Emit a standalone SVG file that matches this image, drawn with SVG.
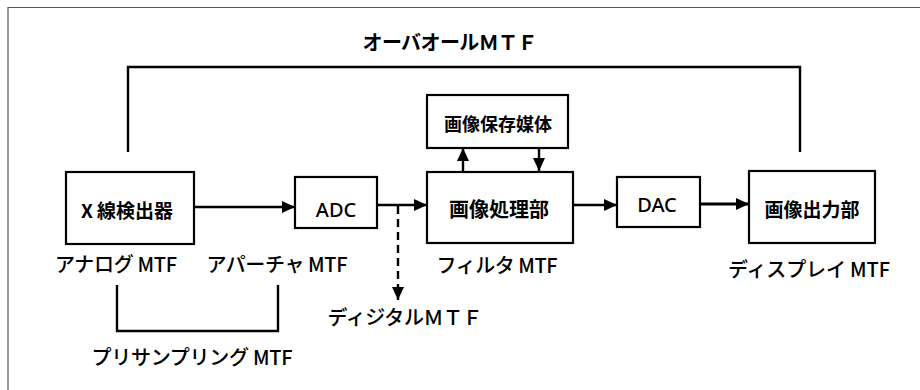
<svg xmlns="http://www.w3.org/2000/svg" width="920" height="390" viewBox="0 0 920 390">
<defs>
<marker id="ah" markerUnits="userSpaceOnUse" markerWidth="13" markerHeight="13" viewBox="0 0 13 13" refX="13" refY="6.5" orient="auto">
<path d="M0,0.5 L13,6.5 L0,12.5 Z" fill="#000"/>
</marker>
<style>
.box{fill:#fff;stroke:#000;stroke-width:2.2}
.ln{fill:none;stroke:#000;stroke-width:2.4}
.ar{fill:none;stroke:#000;stroke-width:2.4;marker-end:url(#ah)}
.ds{fill:none;stroke:#000;stroke-width:2.4;stroke-dasharray:8 5;marker-end:url(#ah)}
.nt{font-family:"Noto Sans CJK JP","Noto Sans",sans-serif;font-size:20px;font-weight:bold;fill:#000;text-anchor:middle}
.lb{font-family:"Noto Sans CJK JP","Noto Sans",sans-serif;font-size:20px;font-weight:500;fill:#000;text-anchor:middle}
.en{font-family:"Noto Sans","Noto Sans CJK JP",sans-serif;font-size:20px;font-weight:500;fill:#000;text-anchor:middle}
</style>
</defs>
<rect width="920" height="390" fill="#fff"/>
<path d="M8,390 V7.5 H920" fill="none" stroke="#555" stroke-width="1.2"/>

<g id="connectors">
<path class="ln" d="M128,152 V67 H800 V152"/>
<path class="ln" d="M117,285 V331 H278 V285"/>
<line class="ar" x1="194" y1="207" x2="295" y2="207"/>
<line class="ar" x1="377" y1="205" x2="427" y2="205"/>
<line class="ds" x1="398" y1="206" x2="398" y2="300"/>
<line class="ar" x1="463" y1="172" x2="463" y2="148"/>
<line class="ar" x1="539" y1="148" x2="539" y2="171"/>
<line class="ar" x1="573" y1="205" x2="617" y2="205"/>
<line class="ar" x1="700" y1="204" x2="749" y2="204" style="stroke-width:3.2"/>
</g>

<g id="title"><text class="lb" x="450" y="50" style="font-weight:bold" textLength="175">オーバオールＭＴＦ</text></g>

<g id="xray">
<rect class="box" x="66" y="172" width="128" height="72"/>
<text class="nt" x="127" y="218" style="font-size:19px">X 線検出器</text>
</g>
<g id="adc">
<rect class="box" x="295" y="177" width="82" height="51"/>
<text class="en" x="336" y="217">ADC</text>
</g>
<g id="storage">
<rect class="box" x="427" y="95" width="141" height="53"/>
<text class="nt" x="498" y="131" style="font-size:18px">画像保存媒体</text>
</g>
<g id="proc">
<rect class="box" x="427" y="172" width="146" height="71"/>
<text class="nt" x="499" y="217">画像処理部</text>
</g>
<g id="dac">
<rect class="box" x="617" y="177" width="83" height="50"/>
<text class="en" x="657" y="212">DAC</text>
</g>
<g id="output">
<rect class="box" x="749" y="171" width="126" height="72"/>
<text class="nt" x="812" y="217" style="font-size:19px">画像出力部</text>
</g>

<g id="labels">
<text class="lb" x="116" y="272" textLength="122">アナログ MTF</text>
<text class="lb" x="277" y="272" textLength="141">アパーチャ MTF</text>
<text class="lb" x="497" y="273" textLength="121">フィルタ MTF</text>
<text class="lb" x="809" y="277" textLength="162">ディスプレイ MTF</text>
<text class="lb" x="405" y="325" textLength="155">ディジタルＭＴＦ</text>
<text class="lb" x="192" y="365" textLength="201">プリサンプリング MTF</text>
</g>
</svg>
